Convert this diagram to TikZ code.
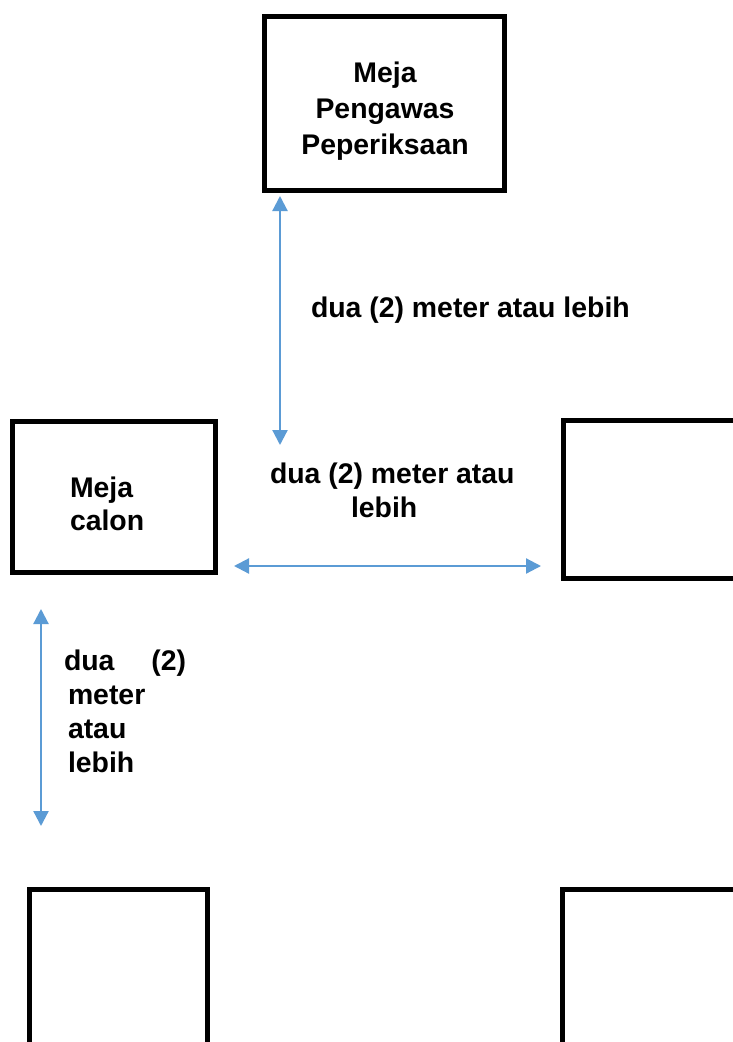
\documentclass[tikz,border=0pt]{standalone}
\usepackage{fontspec}
\setmainfont{Liberation Sans}
\usetikzlibrary{arrows.meta}
\definecolor{arrowblue}{HTML}{5B9BD5}
\begin{document}
\begin{tikzpicture}[x=1pt,y=-1pt,
  box/.style={draw=black, line width=5pt, inner sep=0pt, outer sep=0pt},
  lbl/.style={inner sep=0pt, outer sep=0pt, font=\bfseries\fontsize{28.4}{34}\selectfont, align=left},
  dim/.style={draw=arrowblue, line width=2.2pt, {Triangle[length=15pt,width=15pt]}-{Triangle[length=15pt,width=15pt]}}]
\useasboundingbox (0,0) rectangle (732,1042);
\fill[white] (0,0) rectangle (732,1042);
% boxes
\node[box, minimum width=240pt, minimum height=174pt] (pengawas) at (384.5,103.5) {};
\node[box, minimum width=203pt, minimum height=151pt] (calon) at (114,497) {};
\node[box, minimum width=200pt, minimum height=158pt] (kanan) at (663.5,499.5) {};
\node[box, minimum width=178pt, minimum height=300pt] (kiribawah) at (118.5,1039.5) {};
\node[box, minimum width=200pt, minimum height=300pt] (kananbawah) at (662.5,1039.5) {};
% texts (base anchor = baseline of the last line)
\node[lbl, align=center, anchor=base, font=\bfseries\fontsize{28.4}{36}\selectfont] (tpengawas) at (385,154) {Meja\\Pengawas\\Peperiksaan};
\node[lbl, anchor=base west, font=\bfseries\fontsize{28.4}{33}\selectfont] (tcalon) at (70,530) {Meja\\calon};
\node[lbl, anchor=base west] (tatas) at (311,317) {dua (2) meter atau lebih};
\node[lbl, anchor=base west] (ttengah) at (270,517) {dua (2) meter atau\\\hspace*{81pt}lebih};
\node[lbl, anchor=base west, font=\bfseries\fontsize{28.4}{33.7}\selectfont] (tkiri) at (64,772) {dua\hspace{37pt}(2)\\\hspace*{4pt}meter\\\hspace*{4pt}atau\\\hspace*{4pt}lebih};
% dimension arrows
\coordinate (v1a) at (280,196);
\coordinate (v1b) at (280,445);
\coordinate (h1a) at (234,566);
\coordinate (h1b) at (541,566);
\coordinate (v2a) at (41,609);
\coordinate (v2b) at (41,826);
\draw[dim] (v1a) -- (v1b);
\draw[dim] (h1a) -- (h1b);
\draw[dim] (v2a) -- (v2b);
\end{tikzpicture}
\end{document}
